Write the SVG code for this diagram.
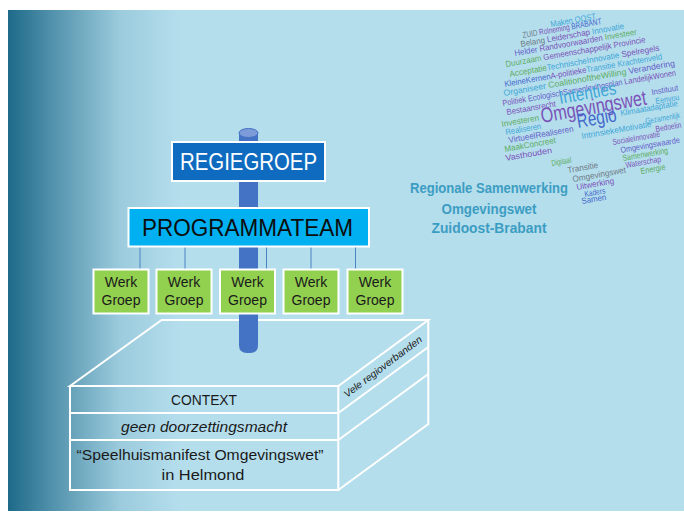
<svg xmlns="http://www.w3.org/2000/svg" width="684" height="517" viewBox="0 0 684 517">
<defs>
<linearGradient id="bg" x1="8" y1="0" x2="180" y2="0" gradientUnits="userSpaceOnUse">
<stop offset="0" stop-color="#1E6A89"/>
<stop offset="0.3" stop-color="#5A98B1"/>
<stop offset="0.65" stop-color="#9BCBDD"/>
<stop offset="1" stop-color="#B5DEED"/>
</linearGradient>
<style>
.wc{font-family:"Liberation Sans",Arial,sans-serif;font-size:8.5px}
.big{font-family:"Liberation Sans",Arial,sans-serif}
.gy{fill:#6F7A86}.pu{fill:#7A52B8}.bl{fill:#4468CC}.lb{fill:#3FA6D6}.gr{fill:#5CAD62}.vb{fill:#6460C8}
.lbl{font-family:"Liberation Sans",Arial,sans-serif;text-anchor:middle}
.wg rect{fill:#92D050;stroke:#FFFFFF;stroke-width:2}
.wg text{font-family:"Liberation Sans",Arial,sans-serif;font-size:14px;text-anchor:middle;fill:#1A1A1A}
.edge{stroke:#FFFFFF;stroke-width:2;fill:none}
.conn{stroke:#4A84C4;stroke-width:1}
.ctx{font-family:"Liberation Sans",Arial,sans-serif;font-size:15px;text-anchor:middle;fill:#1A1A1A}
.teal{font-family:"Liberation Sans",Arial,sans-serif;font-size:14px;font-weight:bold;text-anchor:middle;fill:#3C9DC2}
</style>
</defs>
<rect x="0" y="0" width="684" height="517" fill="#FFFFFF"/>
<rect x="8" y="10" width="676" height="501" fill="url(#bg)"/>

<g id="wordcloud">
<text class="wc" transform="translate(551,27) rotate(-10)" textLength="46" lengthAdjust="spacingAndGlyphs"><tspan class="lb">Maken OOST</tspan></text>
<text class="wc" transform="translate(523,38) rotate(-10)" textLength="80" lengthAdjust="spacingAndGlyphs"><tspan class="gy">ZUID </tspan><tspan class="pu">Rolneming </tspan><tspan class="bl">BRABANT</tspan></text>
<text class="wc" transform="translate(521,47) rotate(-10)" textLength="105" lengthAdjust="spacingAndGlyphs"><tspan class="gy">Belang </tspan><tspan class="pu">Leiderschap </tspan><tspan class="lb">Innovatie</tspan></text>
<text class="wc" transform="translate(515,56) rotate(-10)" textLength="124" lengthAdjust="spacingAndGlyphs"><tspan class="vb">Helder </tspan><tspan class="pu">Randvoorwaarden </tspan><tspan class="gr">Investeer</tspan></text>
<text class="wc" transform="translate(506,67) rotate(-10)" textLength="142" lengthAdjust="spacingAndGlyphs"><tspan class="gr">Duurzaam </tspan><tspan class="pu">Gemeenschappelijk </tspan><tspan class="pu">Provincie</tspan></text>
<text class="wc" transform="translate(510,77) rotate(-10)" textLength="152" lengthAdjust="spacingAndGlyphs"><tspan class="gr">Acceptatie</tspan><tspan class="lb">TechnischeInnovatie </tspan><tspan class="pu">Spelregels</tspan></text>
<text class="wc" transform="translate(505,87) rotate(-10)" textLength="160" lengthAdjust="spacingAndGlyphs"><tspan class="bl">KleineKernen</tspan><tspan class="pu">A-politieke</tspan><tspan class="lb">Transitie </tspan><tspan class="lb">Krachtenveld</tspan></text>
<text class="wc" transform="translate(504,96) rotate(-10)" textLength="174" lengthAdjust="spacingAndGlyphs"><tspan class="lb">Organiseer </tspan><tspan class="gr">CoalitionoftheWilling </tspan><tspan class="vb">Verandering</tspan></text>
<text class="wc" transform="translate(503,106) rotate(-10)" textLength="176" lengthAdjust="spacingAndGlyphs"><tspan class="pu">Politiek </tspan><tspan class="vb">EcologischSamenlevingsplan </tspan><tspan class="pu">LandelijkWonen</tspan></text>
<text class="wc" transform="translate(507,115) rotate(-10)" textLength="50" lengthAdjust="spacingAndGlyphs"><tspan class="pu">Bestaansrecht</tspan></text>
<text class="big lb" font-size="18" transform="translate(560,104) rotate(-10)" textLength="58" lengthAdjust="spacingAndGlyphs">Intenties</text>
<text class="wc" transform="translate(502,127) rotate(-10)" textLength="38" lengthAdjust="spacingAndGlyphs"><tspan class="gr">Investeren</tspan></text>
<text class="big pu" font-size="21" transform="translate(542,123) rotate(-10)" textLength="107" lengthAdjust="spacingAndGlyphs">Omgevingswet</text>
<text class="wc" transform="translate(506,135) rotate(-10)" textLength="36" lengthAdjust="spacingAndGlyphs"><tspan class="lb">Realiseren</tspan></text>
<text class="big bl" font-size="20" transform="translate(578,128) rotate(-10)" textLength="40" lengthAdjust="spacingAndGlyphs">Regio</text>
<text class="wc" transform="translate(509,143) rotate(-10)" textLength="66" lengthAdjust="spacingAndGlyphs"><tspan class="vb">VirtueelRealiseren</tspan></text>
<text class="wc" transform="translate(505,152) rotate(-10)" textLength="52" lengthAdjust="spacingAndGlyphs"><tspan class="gr">MaakConcreet</tspan></text>
<text class="wc" transform="translate(506,161) rotate(-10)" textLength="47" lengthAdjust="spacingAndGlyphs"><tspan class="pu">Vasthouden</tspan></text>
<text class="wc" transform="translate(652,95) rotate(-10)" textLength="27" lengthAdjust="spacingAndGlyphs"><tspan class="vb">Instituut</tspan></text>
<text class="wc" transform="translate(656,104) rotate(-10)" textLength="24" lengthAdjust="spacingAndGlyphs"><tspan class="lb">Eenvou</tspan></text>
<text class="wc" transform="translate(621,116) rotate(-10)" textLength="58" lengthAdjust="spacingAndGlyphs"><tspan class="lb">Klimaatadaptatie</tspan></text>
<text class="wc" transform="translate(646,124) rotate(-10)" textLength="35" lengthAdjust="spacingAndGlyphs"><tspan class="lb">Gezamenlijk</tspan></text>
<text class="wc" transform="translate(582,139) rotate(-10)" textLength="71" lengthAdjust="spacingAndGlyphs"><tspan class="lb">IntrinsiekeMotivatie</tspan></text>
<text class="wc" transform="translate(656,132) rotate(-10)" textLength="26" lengthAdjust="spacingAndGlyphs"><tspan class="pu">Bedoelin</tspan></text>
<text class="wc" transform="translate(613,145) rotate(-10)" textLength="48" lengthAdjust="spacingAndGlyphs"><tspan class="pu">SocialeInnovatie</tspan></text>
<text class="wc" transform="translate(621,153) rotate(-10)" textLength="60" lengthAdjust="spacingAndGlyphs"><tspan class="vb">Omgevingswaarde</tspan></text>
<text class="wc" transform="translate(623,161) rotate(-10)" textLength="46" lengthAdjust="spacingAndGlyphs"><tspan class="gr">Samenwerking</tspan></text>
<text class="wc" transform="translate(626,168) rotate(-10)" textLength="36" lengthAdjust="spacingAndGlyphs"><tspan class="pu">Waterschap</tspan></text>
<text class="wc" transform="translate(641,174) rotate(-10)" textLength="25" lengthAdjust="spacingAndGlyphs"><tspan class="gr">Energie</tspan></text>
<text class="wc" transform="translate(552,166) rotate(-10)" textLength="20" lengthAdjust="spacingAndGlyphs"><tspan class="gr">Digitaal</tspan></text>
<text class="wc" transform="translate(568,173) rotate(-10)" textLength="31" lengthAdjust="spacingAndGlyphs"><tspan class="gy">Transitie</tspan></text>
<text class="wc" transform="translate(573,182) rotate(-10)" textLength="54" lengthAdjust="spacingAndGlyphs"><tspan class="gy">Omgevingswet</tspan></text>
<text class="wc" transform="translate(577,190) rotate(-10)" textLength="38" lengthAdjust="spacingAndGlyphs"><tspan class="pu">Uitwerking</tspan></text>
<text class="wc" transform="translate(585,197) rotate(-10)" textLength="21" lengthAdjust="spacingAndGlyphs"><tspan class="bl">Kaders</tspan></text>
<text class="wc" transform="translate(582,204) rotate(-10)" textLength="25" lengthAdjust="spacingAndGlyphs"><tspan class="bl">Samen</tspan></text>
</g>

<g id="title">
<text class="teal" x="489" y="193" textLength="158" lengthAdjust="spacingAndGlyphs">Regionale Samenwerking</text>
<text class="teal" x="489" y="214" textLength="95" lengthAdjust="spacingAndGlyphs">Omgevingswet</text>
<text class="teal" x="489" y="233" textLength="115" lengthAdjust="spacingAndGlyphs">Zuidoost-Brabant</text>
</g>

<g id="context-box">
<path class="edge" d="M70,386 L161.7,320 L428.3,320 L338.3,386 Z"/>
<rect class="edge" x="70" y="386" width="268.3" height="104"/>
<line class="edge" x1="70" y1="413" x2="338.3" y2="413"/>
<line class="edge" x1="70" y1="440" x2="338.3" y2="440"/>
<path class="edge" d="M428.3,320 L428.3,424 L338.3,490"/>
<line class="edge" x1="338.3" y1="413" x2="428.3" y2="347"/>
<line class="edge" x1="338.3" y1="440" x2="428.3" y2="374"/>
<text class="ctx" x="204" y="405" font-size="16" textLength="66" lengthAdjust="spacingAndGlyphs">CONTEXT</text>
<text class="ctx" x="204" y="432" font-style="italic" textLength="166" lengthAdjust="spacingAndGlyphs">geen doorzettingsmacht</text>
<text class="ctx" x="200" y="460" textLength="247" lengthAdjust="spacingAndGlyphs">“Speelhuismanifest Omgevingswet”</text>
<text class="ctx" x="203" y="480" textLength="83" lengthAdjust="spacingAndGlyphs">in Helmond</text>
<text font-family="Liberation Sans, Arial, sans-serif" font-size="10" font-style="italic" fill="#1A1A1A" transform="translate(347,398) rotate(-37)" textLength="95" lengthAdjust="spacingAndGlyphs">Vele regioverbanden</text>
</g>

<g id="pole">
<path d="M239,133 L239,345 Q239,353 247,353 L250,353 Q258,353 258,345 L258,133 Z" fill="#4472C4"/>
<ellipse cx="248.5" cy="133" rx="9.5" ry="4.5" fill="#7C9BD8" stroke="#4472C4" stroke-width="1"/>
</g>

<g id="connectors">
<line class="conn" x1="140" y1="247" x2="140" y2="269"/>
<line class="conn" x1="185" y1="247" x2="185" y2="269"/>
<line class="conn" x1="266.5" y1="247" x2="266.5" y2="269"/>
<line class="conn" x1="311" y1="247" x2="311" y2="269"/>
<line class="conn" x1="355.5" y1="247" x2="355.5" y2="269"/>
</g>

<g id="regiegroep">
<rect x="172" y="142" width="153" height="39" fill="#0F6BC0" stroke="#FFFFFF" stroke-width="2"/>
<text class="lbl" x="248.5" y="170" font-size="23" fill="#FFFFFF" textLength="137" lengthAdjust="spacingAndGlyphs">REGIEGROEP</text>
</g>

<g id="programmateam">
<rect x="128.5" y="208" width="240.5" height="38.5" fill="#00B0F0" stroke="#FFFFFF" stroke-width="2"/>
<text class="lbl" x="247.5" y="236" font-size="23" fill="#0D0D0D" textLength="211" lengthAdjust="spacingAndGlyphs">PROGRAMMATEAM</text>
</g>

<g id="werkgroep1" class="wg">
<rect x="93.5" y="269.5" width="55" height="44"/>
<text x="121" y="287">Werk</text><text x="121" y="305">Groep</text>
</g>
<g id="werkgroep2" class="wg">
<rect x="156.5" y="269.5" width="55" height="44"/>
<text x="184" y="287">Werk</text><text x="184" y="305">Groep</text>
</g>
<g id="werkgroep3" class="wg">
<rect x="220" y="269.5" width="55" height="44"/>
<text x="247.5" y="287">Werk</text><text x="247.5" y="305">Groep</text>
</g>
<g id="werkgroep4" class="wg">
<rect x="283.5" y="269.5" width="55" height="44"/>
<text x="311" y="287">Werk</text><text x="311" y="305">Groep</text>
</g>
<g id="werkgroep5" class="wg">
<rect x="347.5" y="269.5" width="55" height="44"/>
<text x="375" y="287">Werk</text><text x="375" y="305">Groep</text>
</g>
</svg>
